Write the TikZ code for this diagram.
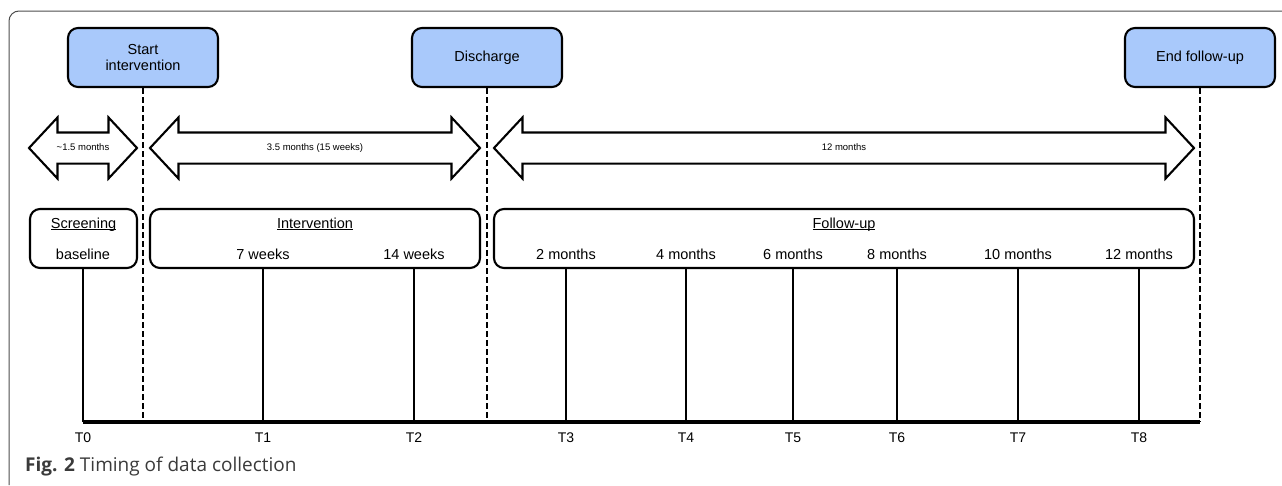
\documentclass[tikz,border=0pt]{standalone}
\usepackage{fontspec}
\setmainfont{Liberation Sans}
\newfontfamily\capfont{Open Sans}
\usetikzlibrary{shapes.arrows}
\definecolor{milestoneblue}{HTML}{A9C9FB}
\definecolor{framegray}{HTML}{4D4D4D}
\definecolor{captext}{HTML}{3A3A3A}
\newcommand\ulword[1]{\setbox0\hbox{#1}\rlap{\rule[-1.8pt]{\wd0}{0.9pt}}\box0}

\begin{document}
\begin{tikzpicture}[x=1pt, y=-1pt,
    milestone/.style = {shape=rectangle, draw, rounded corners=10pt, line width=2.1pt,
      fill=milestoneblue, align=center, inner sep=0pt,
      minimum width=150pt, minimum height=59pt, font=\fontsize{14.5}{16}\selectfont},
    phase/.style = {shape=rectangle, draw, rounded corners=10pt, line width=2.1pt,
      inner sep=0pt, minimum height=59pt},
    span/.style = {double arrow, draw, line width=2.1pt, double arrow tip angle=94,
      double arrow head extend=15pt, inner xsep=0pt, inner ysep=10pt,
      text height=7pt, text depth=2pt, font=\fontsize{9.5}{11}\selectfont},
    boxtext/.style = {anchor=base, inner sep=0pt, font=\fontsize{14.5}{16}\selectfont},
    tlabel/.style = {anchor=base, inner sep=0pt, font=\fontsize{14}{16}\selectfont},
    tick/.style = {line width=2.1pt},
    cut/.style = {line width=2.1pt, dash pattern=on 6pt off 3pt}]
  \useasboundingbox (0,0) rectangle (1282,485);
  \draw[framegray, line width=1pt, rounded corners=10pt] (9,485) -- (9,11) -- (1282,11);

  % milestones
  \node[milestone] (start) at (143,57.5) {Start\\intervention};
  \node[milestone] (discharge) at (487,57.5) {Discharge};
  \node[milestone] (endfu) at (1200,57.5) {End follow-up};

  % durations
  \node[span, minimum height=108pt] (d1) at (83,148) {\textasciitilde1.5 months};
  \node[span, minimum height=330pt] (d2) at (315,148) {3.5 months (15 weeks)};
  \node[span, minimum height=700pt] (d3) at (844,148) {12 months};

  % phases
  \node[phase, minimum width=107pt] (screen) at (83.5,238.5) {};
  \node[phase, minimum width=330pt] (interv) at (315,238.5) {};
  \node[phase, minimum width=700pt] (follow) at (844,238.5) {};
  \node[boxtext] (screenT) at (83.5,228.5) {\ulword{Screening}};
  \node[boxtext] (intervT) at (315,228.5) {\ulword{Intervention}};
  \node[boxtext] (followT) at (844,228.5) {\ulword{Follow-up}};

  % time points
  \coordinate (tend) at (1200,422);
  \foreach \n/\x/\ph/\txt in {0/83/screen/baseline, 1/263/interv/7 weeks, 2/414/interv/14 weeks,
      3/566/follow/2 months, 4/686/follow/4 months, 5/793/follow/6 months,
      6/897/follow/8 months, 7/1018/follow/10 months, 8/1139/follow/12 months} {
    \coordinate (t\n) at (\x,422);
    \node[boxtext] (w\n) at (\x,259.5) {\txt};
    \node[tlabel] (T\n) at (\x,442.5) {T\n};
    \draw[tick] (t\n |- \ph.south) -- (t\n);
  }
  \draw[line width=4.2pt] (t0) -- (tend);

  \draw[cut] (start.south) -- (start.south |- t0);
  \draw[cut] (discharge.south) -- (discharge.south |- t0);
  \draw[cut] (endfu.south) -- (endfu.south |- t0);

  \node[anchor=base west, inner sep=0pt, text=captext, font=\capfont\fontsize{19}{22}\selectfont]
    (caption) at (25,471) {\textbf{Fig. 2} Timing of data collection};
\end{tikzpicture}
\end{document}
